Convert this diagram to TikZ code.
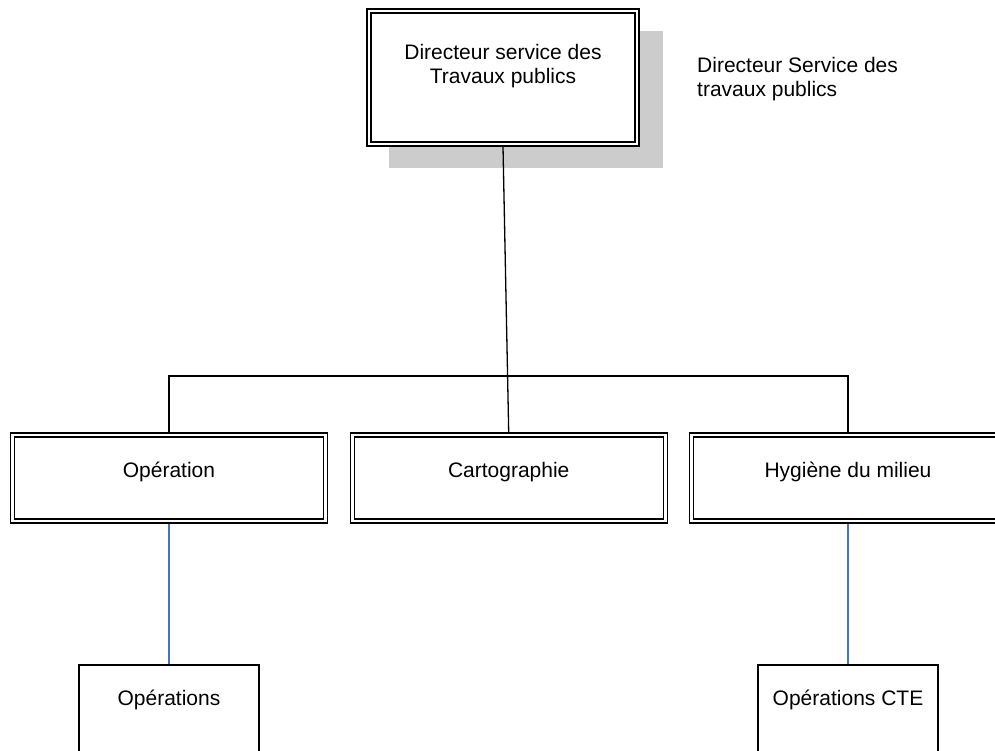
\documentclass[tikz,border=0pt]{standalone}
\usepackage{fontspec}
\setmainfont{Liberation Sans}
\definecolor{linkblue}{RGB}{68,114,196}
\definecolor{shadowgray}{RGB}{204,204,204}
\tikzset{
  unitbox/.style={draw=black, fill=white, line width=1.4pt, double=white,
    double distance=2.6pt, outer sep=2.7pt, inner sep=0pt,
    font=\fontsize{21}{24}\selectfont, align=center},
  midbox/.style={unitbox, minimum width=313pt, minimum height=86pt,
    text height=6pt, text depth=8pt},
  subbox/.style={draw=black, fill=white, line width=1.6pt, inner sep=0pt,
    outer sep=0.8pt, minimum width=180pt, minimum height=120pt,
    font=\fontsize{21}{24}\selectfont, text height=0pt, text depth=40pt},
  conn/.style={draw=black, line width=1.3pt},
  bluelink/.style={draw=linkblue, line width=1.2pt},
  note/.style={font=\fontsize{21}{24}\selectfont, align=left, inner sep=0pt}
}
\begin{document}
\begin{tikzpicture}[x=1pt, y=-1pt]
  \useasboundingbox (0,0) rectangle (995,751);
  \clip (0,0) rectangle (995,751);

  % drop shadow behind the director box
  \fill[shadowgray] (389,31) rectangle (663,168);

  % director
  \node[unitbox, minimum width=268pt, minimum height=133pt,
        text height=13pt, text depth=0pt] (dir) at (503,77.5)
        {Directeur service des\\Travaux publics};

  % side note
  \node[note, anchor=base west] (note) at (697,97)
        {Directeur Service des\\travaux publics};

  % divisions
  \node[midbox] (op)    at (169,478)   {Opération};
  \node[midbox] (carto) at (508.7,478) {Cartographie};
  \node[midbox] (hy)    at (848,478)   {Hygiène du milieu};

  % units
  \node[subbox] (ops) at (169,725) {Opérations};
  \node[subbox] (cte) at (848,725) {Opérations CTE};

  % connectors
  \coordinate (bus) at (0,376);
  \draw[conn] (dir.south) -- (carto.north);
  \draw[conn] (op.north) -- (op.north |- bus) -- (hy.north |- bus) -- (hy.north);
  \draw[bluelink] (op.south) -- (ops.north);
  \draw[bluelink] (hy.south) -- (cte.north);
\end{tikzpicture}
\end{document}
